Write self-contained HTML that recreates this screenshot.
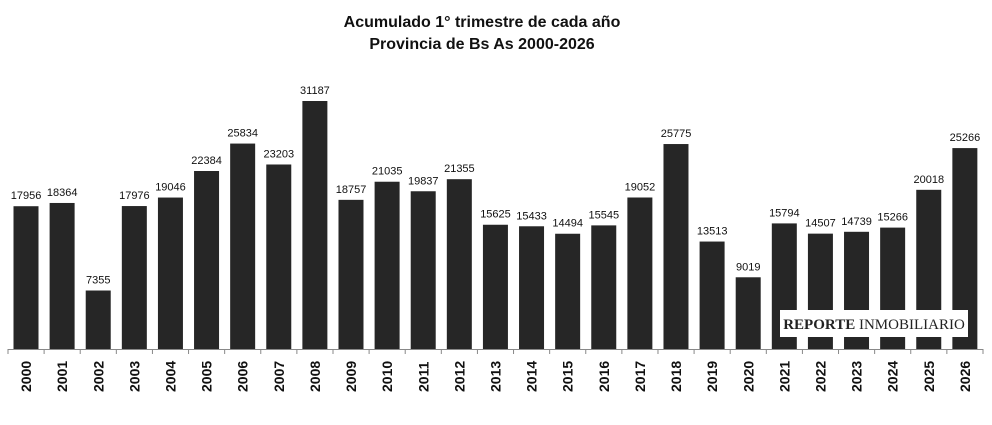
<!DOCTYPE html>
<html><head><meta charset="utf-8"><style>
html,body{margin:0;padding:0;background:#fff;}
</style></head><body>
<svg width="992" height="420" viewBox="0 0 992 420" xmlns="http://www.w3.org/2000/svg" font-family="Liberation Sans, Arial, sans-serif">
<text x="482" y="27" text-anchor="middle" font-size="16" font-weight="bold" fill="#111">Acumulado 1° trimestre de cada año</text>
<text x="482" y="49" text-anchor="middle" font-size="16" font-weight="bold" fill="#111">Provincia de Bs As 2000-2026</text>
<g id="bars"></g>
<line x1="8" y1="349.5" x2="983" y2="349.5" stroke="#888" stroke-width="1"/>
<g id="ticks"></g>
<rect x="780" y="310" width="188" height="27" fill="#fff"/>
<text x="874" y="329" text-anchor="middle" font-family="Liberation Serif, serif" font-size="15" fill="#222"><tspan font-weight="bold">REPORTE</tspan> INMOBILIARIO</text>
</svg>
<script>
var d=[17956,18364,7355,17976,19046,22384,25834,23203,31187,18757,21035,19837,21355,15625,15433,14494,15545,19052,25775,13513,9019,15794,14507,14739,15266,20018,25266];
var ns="http://www.w3.org/2000/svg",b=document.getElementById('bars'),t=document.getElementById('ticks');
var step=36.11,base=349,k=248/31187;
function el(n,a,txt){var e=document.createElementNS(ns,n);for(var q in a)e.setAttribute(q,a[q]);if(txt)e.textContent=txt;return e;}
for(var i=0;i<d.length;i++){
 var x0=8+i*step,h=d[i]*k,cx=x0+step/2;
 b.appendChild(el('rect',{x:x0+5.5,y:base-h,width:25,height:h,fill:'#262626'}));
 b.appendChild(el('text',{x:cx,y:base-h-7,'text-anchor':'middle','font-size':'11',fill:'#111'},String(d[i])));
 t.appendChild(el('line',{x1:x0,y1:349,x2:x0,y2:354,stroke:'#888'}));
 t.appendChild(el('text',{x:0,y:0,transform:'translate('+(cx+5)+',392) rotate(-90)','font-size':'14','font-weight':'bold',fill:'#111'},String(2000+i)));
}
t.appendChild(el('line',{x1:983,y1:349,x2:983,y2:354,stroke:'#888'}));
</script>
</body></html>
